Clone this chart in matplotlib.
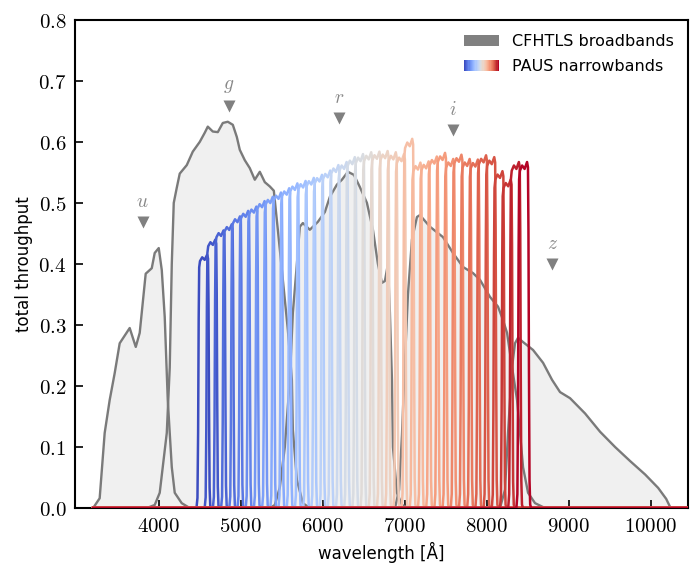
import numpy as np
import matplotlib
matplotlib.use('Agg')
import matplotlib.pyplot as plt
from matplotlib.legend_handler import HandlerBase
from matplotlib.patches import Rectangle, Patch

plt.rcParams['mathtext.fontset'] = 'cm'

# CFHTLS broadband throughputs (wavelength in Angstrom, throughput)
u_wave = [3200, 3280, 3341, 3402, 3463, 3524, 3646, 3720, 3768, 3841, 3915, 3951,
          4000, 4037, 4073, 4110, 4159, 4195, 4280, 4378]
u_thr = [0.0, 0.016, 0.123, 0.177, 0.221, 0.27, 0.295, 0.264, 0.287, 0.384, 0.393, 0.418,
         0.426, 0.39, 0.313, 0.177, 0.067, 0.025, 0.008, 0.0]

g_wave = [3854, 3951, 4012, 4098, 4134, 4159, 4183, 4220, 4256, 4342, 4415, 4500, 4561,
          4598, 4659, 4720, 4781, 4842, 4903, 4952, 4988, 5049, 5110, 5171, 5232, 5293,
          5354, 5403, 5452, 5513, 5574, 5623, 5635, 5684, 5757, 5842]
g_thr = [0.0, 0.005, 0.025, 0.123, 0.23, 0.40, 0.50, 0.525, 0.548, 0.562, 0.584, 0.60, 0.615,
         0.625, 0.617, 0.616, 0.631, 0.633, 0.628, 0.608, 0.587, 0.57, 0.557, 0.538, 0.551, 0.534,
         0.527, 0.52, 0.456, 0.374, 0.292, 0.21, 0.128, 0.046, 0.008, 0.0]

r_wave = [5354, 5415, 5476, 5537, 5598, 5635, 5684, 5720, 5757, 5842, 5940, 6025, 6086,
          6172, 6233, 6306, 6379, 6452, 6538, 6611, 6672, 6721, 6757, 6794, 6818, 6843,
          6855, 6904, 6965, 7062]
r_thr = [0.0, 0.005, 0.034, 0.1, 0.21, 0.32, 0.40, 0.461, 0.467, 0.456, 0.469, 0.485, 0.51,
         0.53, 0.538, 0.551, 0.546, 0.526, 0.50, 0.456, 0.40, 0.369, 0.372, 0.40, 0.32, 0.21,
         0.10, 0.025, 0.005, 0.0]

i_wave = [6880, 6930, 6965, 7001, 7038, 7087, 7148, 7184, 7306, 7465, 7587, 7709, 7831,
          7916, 8038, 8136, 8197, 8246, 8307, 8368, 8404, 8441, 8502, 8587, 8709]
i_thr = [0.0, 0.03, 0.12, 0.24, 0.35, 0.44, 0.477, 0.48, 0.461, 0.444, 0.418, 0.395, 0.385,
         0.374, 0.346, 0.33, 0.308, 0.287, 0.231, 0.177, 0.123, 0.067, 0.025, 0.008, 0.0]

z_wave = [8160, 8221, 8258, 8307, 8343, 8380, 8441, 8563, 8685, 8795, 8892, 9014, 9197,
          9380, 9563, 9746, 9929, 10088, 10186, 10240]
z_thr = [0.0, 0.03, 0.123, 0.231, 0.27, 0.279, 0.272, 0.259, 0.238, 0.21, 0.19, 0.18, 0.155,
         0.125, 0.10, 0.077, 0.055, 0.033, 0.015, 0.0]

bands = [(u_wave, u_thr), (g_wave, g_thr), (r_wave, r_thr), (i_wave, i_thr), (z_wave, z_thr)]

# band labels and marker positions
band_names = ['u', 'g', 'r', 'i', 'z']
band_mark_wave = [3805, 4854, 6196, 7587, 8795]
band_mark_y = [0.469, 0.659, 0.639, 0.620, 0.400]

# PAUS narrowbands: centres and peak throughput
paus_centers = np.arange(4550, 8451, 100)
paus_peaks = [0.415, 0.44, 0.455, 0.465, 0.478, 0.487, 0.494, 0.503, 0.51, 0.517,
              0.524, 0.532, 0.536, 0.541, 0.546, 0.553, 0.562, 0.567, 0.575, 0.58,
              0.583, 0.584, 0.585, 0.583, 0.58, 0.605, 0.566, 0.568, 0.576, 0.582,
              0.572, 0.579, 0.572, 0.571, 0.578, 0.575, 0.552, 0.538, 0.567, 0.567]
# filter profile shape (offset from centre [A], fraction of peak)
nb_offset = [-90, -78, -70, -63, -57, -47, -20, 10, 40, 51, 57, 63, 70, 78, 90]
nb_frac = [0.0, 0.04, 0.3, 0.75, 0.95, 0.975, 0.99, 0.98, 1.0, 0.985, 0.8, 0.4, 0.08, 0.01, 0.0]

fig = plt.figure(figsize=(6.92, 5.67), dpi=100)
ax = fig.add_axes([0.108, 0.104, 0.886, 0.861])

for w, t in bands:
    ax.fill_between(w, t, 0, color='#f0f0f0', lw=0, zorder=1)
for w, t in bands:
    ax.plot(w, t, color='#7a7a7a', lw=1.7, zorder=2)

colors = plt.cm.coolwarm(np.linspace(0, 1, len(paus_centers)))
for c, p, col in zip(paus_centers, paus_peaks, colors):
    x = np.concatenate([[3200], c + np.array(nb_offset), [10500]])
    y = np.concatenate([[0], p * np.array(nb_frac), [0]])
    ax.plot(x, y, color=col, lw=1.8, zorder=3)

for name, wv, yv in zip(band_names, band_mark_wave, band_mark_y):
    ax.plot(wv, yv, marker='v', color='#808080', ms=8, mec='none', zorder=4)
    ax.text(wv, yv + 0.018, '$' + name + '$', color='#888888', fontsize=14,
            ha='center', va='bottom')

ax.set_xlim(2976, 10450)
ax.set_ylim(0, 0.8)
ax.set_xticks(range(4000, 10001, 1000))
ax.set_xticklabels(['$%d$' % v for v in range(4000, 10001, 1000)])
yt = np.arange(0, 0.81, 0.1)
ax.set_yticks(yt)
ax.set_yticklabels(['$%.1f$' % v for v in yt])
ax.tick_params(direction='in', length=6, width=1.2, labelsize=15, pad=6)
for s in ax.spines.values():
    s.set_linewidth(1.5)
ax.set_xlabel('wavelength [Å]', fontsize=12)
ax.set_ylabel('total throughput', fontsize=12)


class GradientHandler(HandlerBase):
    def create_artists(self, legend, orig_handle, xdescent, ydescent, width, height, fontsize, trans):
        n = 30
        cols = plt.cm.coolwarm(np.linspace(0, 1, n))
        arts = []
        for j in range(n):
            arts.append(Rectangle((-xdescent + j * width / n, -ydescent), width / n + 0.3, height,
                                  facecolor=cols[j], edgecolor='none', transform=trans))
        return arts


bb_patch = Patch(facecolor='#808080', edgecolor='none')
nb_patch = Patch(facecolor='white')
ax.legend([bb_patch, nb_patch], ['CFHTLS broadbands', 'PAUS narrowbands'],
          handler_map={nb_patch: GradientHandler()}, loc='upper right',
          frameon=False, fontsize=11.5, handlelength=2.2, borderaxespad=0.5,
          labelspacing=0.6)

fig.savefig('out.png', dpi=100)
